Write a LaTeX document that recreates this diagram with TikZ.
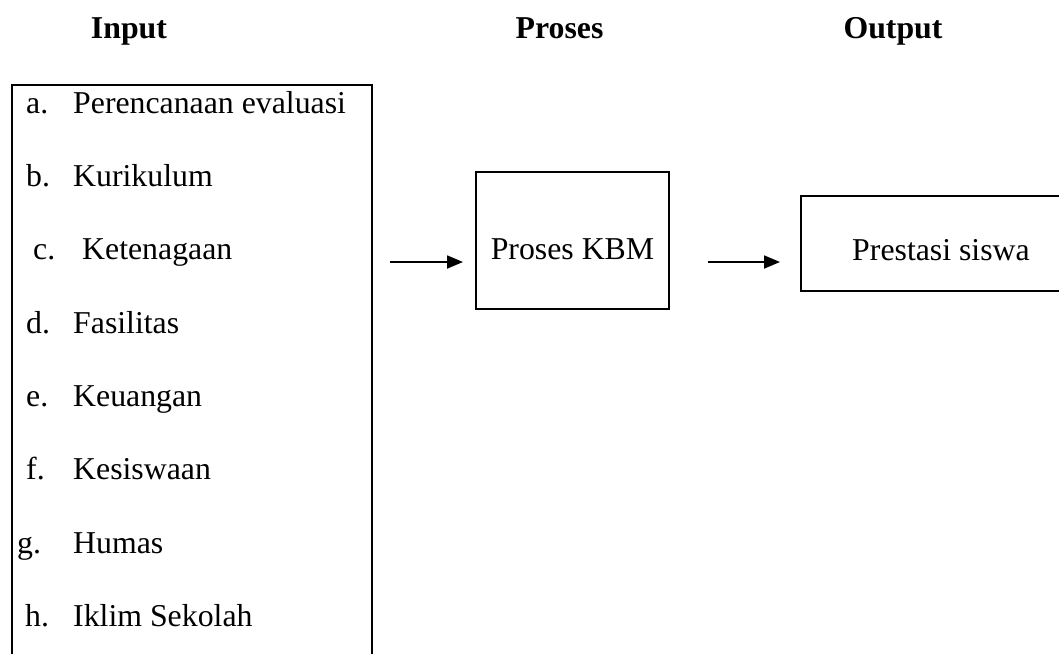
\documentclass[tikz,border=0pt]{standalone}
\usepackage{fontspec}
\setmainfont{Liberation Serif}
\usetikzlibrary{arrows.meta}
\tikzset{
  boxstyle/.style={draw, line width=1.8pt, inner sep=0pt, rectangle},
  head/.style={font=\fontsize{31.8}{38}\selectfont\bfseries, anchor=base, inner sep=0pt},
  itm/.style={font=\fontsize{31.8}{38}\selectfont, anchor=base west, inner sep=0pt},
  arr/.style={line width=1.8pt, -{Triangle[length=16pt,width=13pt]}}
}
\begin{document}
\begin{tikzpicture}[x=1pt,y=-1pt]
\useasboundingbox (0,0) rectangle (1059,653);
\clip (0,0) rectangle (1059,653);
% headers
\node[head] (hin) at (129,38) {Input};
\node[head] (hpr) at (559.5,38) {Proses};
\node[head] (hout) at (893,38) {Output};
% input box
\node[boxstyle, anchor=north west, minimum width=360pt, minimum height=640pt] (input) at (11,84) {};
\node[itm] (la) at (26,113) {a.};
\node[itm] (ta) at (73,113) {Perencanaan evaluasi};
\node[itm] (lb) at (26,186) {b.};
\node[itm] (tb) at (73,186) {Kurikulum};
\node[itm] (lc) at (33,259) {c.};
\node[itm] (tc) at (82,259) {Ketenagaan};
\node[itm] (ld) at (26,333) {d.};
\node[itm] (td) at (73,333) {Fasilitas};
\node[itm] (le) at (26,406) {e.};
\node[itm] (te) at (73,406) {Keuangan};
\node[itm] (lf) at (26,479) {f.};
\node[itm] (tf) at (73,479) {Kesiswaan};
\node[itm] (lg) at (17,553) {g.};
\node[itm] (tg) at (73,553) {Humas};
\node[itm] (lh) at (25,626) {h.};
\node[itm] (th) at (73,626) {Iklim Sekolah};
% proses box
\node[boxstyle, minimum width=193pt, minimum height=137pt,
      font=\fontsize{31.8}{38}\selectfont, text height=37pt, text depth=0pt] (proses) at (572.5,240.5) {Proses KBM};
% output box
\node[boxstyle, minimum width=280pt, minimum height=95pt,
      font=\fontsize{31.8}{38}\selectfont, text height=33pt, text depth=0pt] (prestasi) at (941,243.5) {Prestasi siswa};
% arrows
\coordinate (a1s) at (390,262);
\coordinate (a1e) at (463,262);
\coordinate (a2s) at (708,262);
\coordinate (a2e) at (780,262);
\draw[arr] (a1s) -- (a1e);
\draw[arr] (a2s) -- (a2e);
\end{tikzpicture}
\end{document}
